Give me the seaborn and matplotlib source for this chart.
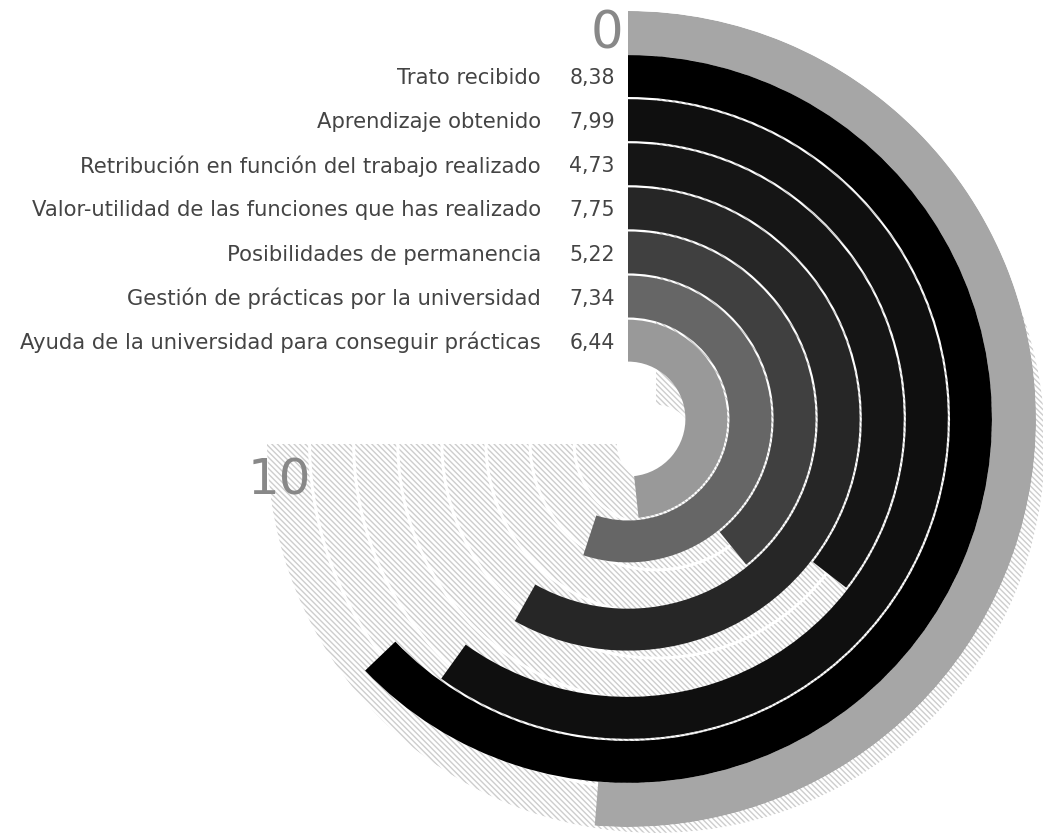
import numpy as np
import pandas as pd
import matplotlib
matplotlib.use("Agg")
import matplotlib.pyplot as plt
import matplotlib.transforms as mtransforms
import seaborn as sns

# Data
categorias = [
    "Trato recibido",
    "Aprendizaje obtenido",
    "Retribución en función del trabajo realizado",
    "Valor-utilidad de las funciones que has realizado",
    "Posibilidades de permanencia",
    "Gestión de prácticas por la universidad",
    "Ayuda de la universidad para conseguir prácticas",
]
valores = [8.38, 7.99, 4.73, 7.75, 5.22, 7.34, 6.44]
media = 6.84
escala_max = 10

colores = ["#000000", "#0f0f0f", "#151515", "#262626", "#404040", "#666666", "#999999"]
color_media = "#a6a6a6"

df = pd.DataFrame({"categoria": categorias, "valor": valores, "color": colores})

sns.set_style("white")
plt.rcParams["font.family"] = ["DejaVu Sans"]

W, H = 1043, 837
fig = plt.figure(figsize=(W / 100, H / 100), dpi=100)

ring = 44.1
gap = 2.2
arc_total = 1.5 * np.pi


def theta(v):
    return v / escala_max * arc_total


def polar_axes(cx, cy, rmax, z):
    ax = fig.add_axes([(cx - rmax) / W, (H - cy - rmax) / H, 2 * rmax / W, 2 * rmax / H],
                      projection="polar", zorder=z)
    ax.set_theta_zero_location("N")
    ax.set_theta_direction(-1)
    ax.set_ylim(0, rmax)
    ax.axis("off")
    ax.patch.set_alpha(0)
    return ax


# hatched background tracks
plt.rcParams["hatch.linewidth"] = 1.0
R_h = 389
axh = polar_axes(656, 445, R_h, 0)
for k in range(len(valores) + 1):
    outer = R_h - k * ring
    axh.bar(0, ring - 3, width=theta(escala_max), bottom=outer - ring + 3, align="edge",
            facecolor="none", edgecolor="#cdcdcd", linewidth=0, hatch="\\" * 6)

# bars
R = 408
ax = polar_axes(628, 420, R, 1)
ax.bar(0, ring, width=theta(media), bottom=R - ring, align="edge", color=color_media, linewidth=0)
for i, row in df.iterrows():
    outer = R - (i + 1) * ring
    ax.bar(0, ring - gap, width=theta(row["valor"]), bottom=outer - ring + gap, align="edge",
           color=row["color"], linewidth=0)

# labels
lab_tr = mtransforms.offset_copy(ax.transData, fig=fig, x=-87, y=0, units="dots")
val_tr = mtransforms.offset_copy(ax.transData, fig=fig, x=-13, y=0, units="dots")
for i, row in df.iterrows():
    r_mid = R - (i + 1) * ring - ring / 2
    ax.text(0, r_mid, row["categoria"], transform=lab_tr, ha="right", va="center",
            fontsize=15.2, color="#444444")
    ax.text(0, r_mid, f"{row['valor']:.2f}".replace(".", ","), transform=val_tr,
            ha="right", va="center", fontsize=14.8, color="#444444")

zero_tr = mtransforms.offset_copy(ax.transData, fig=fig, x=-5, y=0, units="dots")
ax.text(0, R - ring / 2, "0", transform=zero_tr, ha="right", va="center",
        fontsize=37, color="#888888")
fig.text(279 / W, 1 - 481 / H, "10", ha="center", va="center", fontsize=36, color="#888888")

fig.savefig("out.png", dpi=100)
